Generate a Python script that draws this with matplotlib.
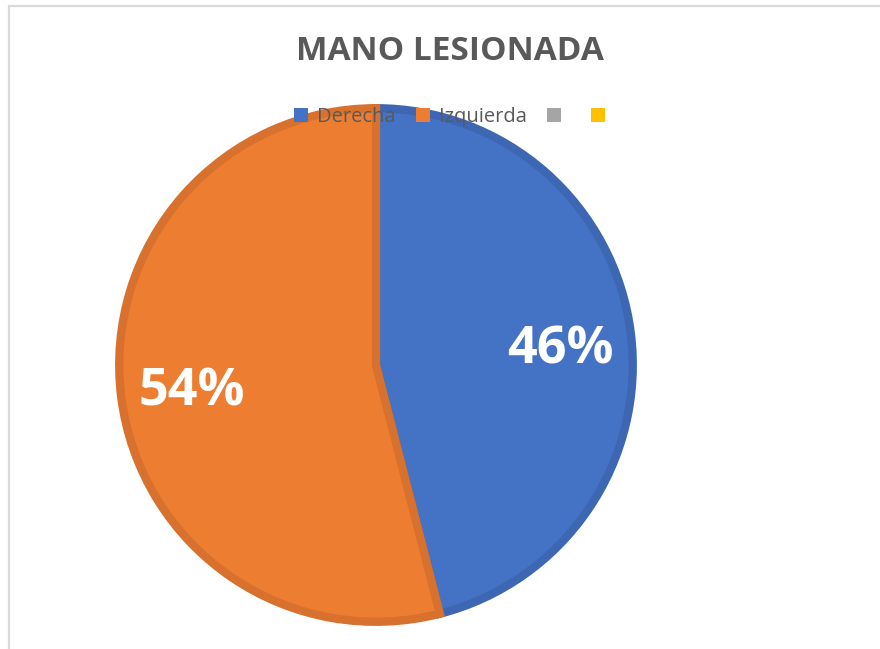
import matplotlib.pyplot as plt
from matplotlib.patches import Rectangle, Patch

# Data
categories = ["Derecha", "Izquierda", "", ""]
values = [46, 54]
colors = ["#4472C4", "#ED7D31", "#A5A5A5", "#FFC000"]
edge_colors = ["#3D67B3", "#D7712D"]
pct_labels = ["46%", "54%"]

W, H = 880, 649
fig = plt.figure(figsize=(W / 100, H / 100), dpi=100)
fig.patch.set_facecolor("white")

# light chart-area border (extends past the right/bottom edges)
fig.patches.append(Rectangle((8.5 / W, -0.1), 1.2, (H - 6.5) / H + 0.1,
                             transform=fig.transFigure, fill=False,
                             edgecolor="#D9D9D9", linewidth=1.6, zorder=0))

# pie axes centred on (376, 365) px, radius ~261 px
cx, cy, R = 376, H - 365, 262
ax = fig.add_axes([(cx - R) / W, (cy - R) / H, 2 * R / W, 2 * R / H])

wedges, _ = ax.pie(values, colors=colors[:2], startangle=90, counterclock=False,
                   radius=0.98, wedgeprops=dict(linewidth=6, joinstyle="miter"))
for w, ec in zip(wedges, edge_colors):
    w.set_edgecolor(ec)
ax.set_xlim(-1, 1)
ax.set_ylim(-1, 1)
ax.set_aspect("equal")
ax.axis("off")

# percentage labels (pixel positions converted to data coords)
label_pos = [(560, 350), (192, 392)]
for (px, py), txt in zip(label_pos, pct_labels):
    ax.text((px - 376) / R, (365 - py) / R, txt, ha="center", va="center",
            color="white", fontsize=37.5, fontweight="bold", family="Open Sans")

fig.text(450 / W, 1 - 51 / H, "MANO LESIONADA", ha="center", va="center",
         fontsize=24, fontweight="bold", color="#595959", family="Open Sans")

handles = [Patch(facecolor=c, edgecolor="none") for c in colors]
leg = fig.legend(handles, categories, loc="center", bbox_to_anchor=(454 / W, 1 - 117 / H),
                 ncol=4, frameon=False, handlelength=0.7, handleheight=0.7,
                 handletextpad=0.45, columnspacing=1.0,
                 prop=dict(family="Open Sans", size=14.5))
for t in leg.get_texts():
    t.set_color("#595959")

fig.savefig("out.png", dpi=100)
